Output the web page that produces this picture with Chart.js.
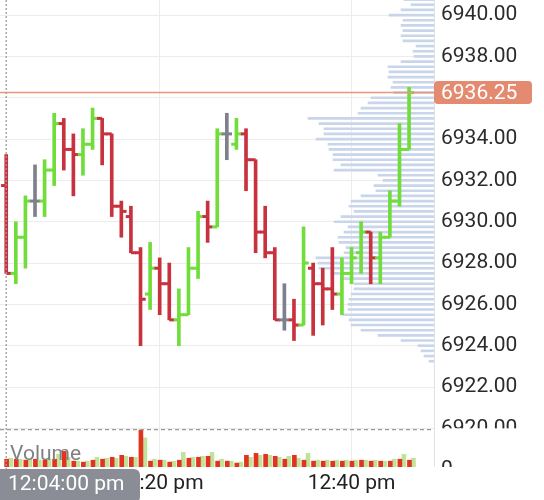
<!DOCTYPE html>
<html>
<head>
<meta charset="utf-8">
<script src="https://cdn.jsdelivr.net/npm/chart.js@4.4.1/dist/chart.umd.min.js"></script>
<style>
  html, body { margin: 0; padding: 0; background: #fff; }
</style>
</head>
<body>
<canvas id="chart" width="544" height="500"></canvas>
<script>
// minutes after 12:00
const times = [4,5,6,7,8,9,10,11,12,13,14,15,16,17,18,19,20,21,22,23,24,25,26,27,28,29,30,31,32,33,34,35,36,37,38,39,40,41,42,43,44,45,46];
const openP  = [6931.75,6927.5,6929.25,6931.0,6931.0,6932.5,6934.75,6933.5,6933.25,6933.75,6935.0,6934.25,6930.75,6930.25,6928.5,6926.5,6927.75,6927.0,6925.25,6925.5,6927.75,6930.25,6929.75,6934.25,6933.75,6934.25,6933.0,6929.5,6928.5,6925.25,6925.25,6925.0,6927.75,6927.0,6926.75,6926.5,6927.5,6928.5,6929.5,6928.25,6929.25,6931.0,6933.5];
const highP  = [6933.25,6930.0,6931.25,6932.75,6933.0,6935.25,6935.0,6934.25,6934.5,6935.5,6935.0,6934.25,6931.0,6930.75,6928.75,6929.0,6928.25,6928.0,6926.75,6928.75,6930.5,6931.0,6934.5,6935.25,6935.0,6934.5,6933.0,6930.75,6928.75,6927.0,6926.25,6929.75,6928.0,6927.75,6928.75,6928.25,6928.75,6930.0,6929.5,6929.5,6931.5,6934.75,6936.5];
const lowP   = [6927.5,6927.0,6927.75,6930.25,6930.25,6931.75,6932.5,6931.25,6932.25,6933.5,6932.75,6930.25,6929.25,6928.5,6924.0,6925.75,6925.5,6925.25,6924.0,6925.5,6927.25,6929.0,6929.75,6933.0,6933.5,6931.5,6928.5,6928.25,6925.25,6924.75,6924.25,6925.0,6924.5,6925.0,6925.75,6925.5,6927.0,6927.5,6927.0,6927.0,6929.25,6930.75,6933.5];
const closeP = [6927.5,6929.25,6931.0,6931.0,6932.5,6934.75,6933.5,6933.25,6933.75,6935.0,6934.25,6930.75,6930.5,6928.5,6926.25,6927.75,6927.0,6925.25,6925.5,6927.75,6930.25,6929.75,6934.25,6934.25,6934.25,6933.0,6929.5,6928.5,6925.25,6925.25,6925.0,6928.0,6927.0,6926.75,6926.5,6927.5,6928.25,6929.5,6928.25,6929.25,6931.0,6933.5,6936.25];

const sellVol = [8,8,7,8,7,8,16,6,5,7,8,10,12,10,38,6,7,5,7,9,10,11,6,6,4,12,14,13,11,8,12,7,6,6,6,6,6,7,6,6,6,8,7];
const buyVol  = [9,8,8,7,8,13,10,6,6,10,9,9,11,10,30,8,7,6,15,10,11,15,8,6,5,10,12,12,10,11,9,14,7,7,7,7,7,7,7,6,8,13,9];

const profilePrices = [6940.75,6940.5,6940.25,6940.0,6939.75,6939.5,6939.25,6939.0,6938.75,6938.5,6938.25,6938.0,6937.75,6937.5,6937.25,6937.0,6936.75,6936.5,6936.25,6936.0,6935.75,6935.5,6935.25,6935.0,6934.75,6934.5,6934.25,6934.0,6933.75,6933.5,6933.25,6933.0,6932.75,6932.5,6932.25,6932.0,6931.75,6931.5,6931.25,6931.0,6930.75,6930.5,6930.25,6930.0,6929.75,6929.5,6929.25,6929.0,6928.75,6928.5,6928.25,6928.0,6927.75,6927.5,6927.25,6927.0,6926.75,6926.5,6926.25,6926.0,6925.75,6925.5,6925.25,6925.0,6924.75,6924.5,6924.25,6924.0,6923.75,6923.5,6923.25];
const profileVol = [30,23,33,45,31,33,31,33,31,18,21,20,33,46,45,46,41,43,40,63,66,73,76,126,115,110,110,118,106,105,101,101,93,100,56,51,60,58,73,83,85,80,93,100,86,90,96,95,88,90,118,116,115,103,93,80,80,83,85,86,86,91,85,83,73,56,33,16,13,10,5];

const lastPrice = 6936.25;
const crossTime = 4;
const crossPrice = 6920;

const GREEN = '#70dd3a', RED = '#c8323f', GRAY = '#7e808d';
const barColor = times.map((t, i) => closeP[i] > openP[i] ? GREEN : closeP[i] < openP[i] ? RED : GRAY);

const fmtTime = (m) => {
  const h = 12 + Math.floor(m / 60);
  const mm = String(Math.round(m % 60)).padStart(2, '0');
  return h + ':' + mm + ' pm';
};

Chart.defaults.font.family = 'Roboto';

const noPad = (s) => { s.paddingTop = 0; s.paddingBottom = 0; s.paddingLeft = 0; s.paddingRight = 0; };

const overlay = {
  id: 'overlay',
  afterDatasetsDraw(chart) {
    const { ctx, chartArea: a, scales: { x, y } } = chart;
    ctx.save();
    const py = y.getPixelForValue(lastPrice);
    ctx.strokeStyle = '#e9977c';
    ctx.lineWidth = 1.5;
    ctx.beginPath(); ctx.moveTo(a.left, py); ctx.lineTo(a.right, py); ctx.stroke();

    const cx = x.getPixelForValue(crossTime), cy = y.getPixelForValue(crossPrice);
    ctx.strokeStyle = '#9b9b9b';
    ctx.lineWidth = 1.3;
    ctx.setLineDash([4, 3]);
    ctx.beginPath(); ctx.moveTo(a.left, cy + 1.2); ctx.lineTo(a.right, cy + 1.2); ctx.stroke();
    ctx.setLineDash([2, 2]);
    ctx.beginPath(); ctx.moveTo(cx, a.top); ctx.lineTo(cx, a.bottom + 4); ctx.stroke();
    ctx.restore();
  },
  afterDraw(chart) {
    const { ctx, chartArea: a, scales: { x, y } } = chart;
    const cy = y.getPixelForValue(crossPrice);
    ctx.save();
    // right pane border
    ctx.strokeStyle = '#e2e2e2';
    ctx.lineWidth = 1;
    ctx.beginPath(); ctx.moveTo(a.right + 0.5, a.top); ctx.lineTo(a.right + 0.5, a.bottom); ctx.stroke();

    // volume pane clips the price labels
    ctx.fillStyle = '#fff';
    ctx.fillRect(a.right + 1, cy, 544 - a.right, a.bottom - cy + 1);
    ctx.beginPath();
    ctx.rect(a.right + 1, cy, 544 - a.right, a.bottom - cy);
    ctx.clip();
    ctx.fillStyle = '#2b2b2b';
    ctx.font = '21px Roboto';
    ctx.textBaseline = 'middle';
    ctx.textAlign = 'left';
    ctx.fillText('0', a.right + 7, a.bottom + 3);
    ctx.restore();

    ctx.save();
    // last price tag
    const py = y.getPixelForValue(lastPrice);
    ctx.fillStyle = '#e38a70';
    ctx.beginPath();
    ctx.roundRect(a.right, py - 11.5, 98, 23, 4);
    ctx.fill();
    ctx.fillStyle = '#fff';
    ctx.font = '21px Roboto';
    ctx.textBaseline = 'middle';
    ctx.textAlign = 'left';
    ctx.fillText(lastPrice.toFixed(2), a.right + 7, py + 1);

    // crosshair time tag
    ctx.fillStyle = '#8a8d95';
    ctx.beginPath();
    ctx.roundRect(-12, a.bottom + 2, 152, 34, 6);
    ctx.fill();
    ctx.fillStyle = '#fff';
    ctx.fillText('12:04:00 pm', 8, a.bottom + 18);

    // volume pane title
    ctx.fillStyle = '#808080';
    ctx.textBaseline = 'alphabetic';
    ctx.fillText('Volume', 10, 460);
    ctx.restore();
  }
};

new Chart(document.getElementById('chart'), {
  data: {
    datasets: [
      {
        type: 'bar',
        label: 'profile',
        indexAxis: 'y',
        xAxisID: 'xp',
        yAxisID: 'y',
        data: profilePrices.map((p, i) => ({ x: profileVol[i], y: p })),
        backgroundColor: '#c9d5ea',
        barThickness: 2,
        grouped: false,
        order: 10
      },
      {
        type: 'bar',
        label: 'range',
        xAxisID: 'x',
        yAxisID: 'y',
        data: times.map((t, i) => ({ x: t, y: [lowP[i], highP[i]] })),
        backgroundColor: barColor,
        barThickness: 3,
        grouped: false,
        order: 2
      },
      {
        type: 'scatter',
        label: 'open',
        xAxisID: 'x',
        yAxisID: 'y',
        data: times.map((t, i) => ({ x: t - 0.27, y: openP[i] })),
        pointStyle: 'line',
        pointRadius: 2.6,
        pointBorderWidth: 3,
        pointBorderColor: barColor,
        pointBackgroundColor: barColor,
        order: 1
      },
      {
        type: 'scatter',
        label: 'close',
        xAxisID: 'x',
        yAxisID: 'y',
        data: times.map((t, i) => ({ x: t + 0.27, y: closeP[i] })),
        pointStyle: 'line',
        pointRadius: 2.6,
        pointBorderWidth: 3,
        pointBorderColor: barColor,
        pointBackgroundColor: barColor,
        order: 1
      },
      {
        type: 'bar',
        label: 'sell volume',
        xAxisID: 'x',
        yAxisID: 'yv',
        data: times.map((t, i) => ({ x: t + 0.25, y: sellVol[i] })),
        backgroundColor: '#e2331f',
        barThickness: 4,
        grouped: true,
        order: 5
      },
      {
        type: 'bar',
        label: 'buy volume',
        xAxisID: 'x',
        yAxisID: 'yv',
        data: times.map((t, i) => ({ x: t + 0.25, y: buyVol[i] })),
        backgroundColor: '#bfe39b',
        barThickness: 4,
        grouped: true,
        order: 5
      }
    ]
  },
  options: {
    responsive: false,
    animation: false,
    layout: { padding: 0, autoPadding: false },
    plugins: { legend: { display: false }, tooltip: { enabled: false } },
    scales: {
      x: {
        type: 'linear',
        position: 'bottom',
        offset: false,
        min: 3.35,
        max: 48.6,
        afterFit: (s) => { s.height = 33; noPad(s); },
        grid: { color: '#ececec', drawTicks: false, offset: false },
        border: { display: false },
        ticks: {
          stepSize: 20,
          includeBounds: false,
          padding: 4,
          color: '#222',
          font: { size: 21 },
          maxRotation: 0,
          callback: (v) => fmtTime(v)
        }
      },
      y: {
        type: 'linear',
        position: 'right',
        offset: false,
        min: 6918.13,
        max: 6940.73,
        afterFit: (s) => { s.width = 110; noPad(s); },
        grid: { color: '#ececec', drawTicks: false, offset: false },
        border: { display: false },
        ticks: {
          stepSize: 2,
          includeBounds: false,
          padding: 7,
          color: '#2b2b2b',
          font: { size: 21 },
          callback: (v) => v.toFixed(2)
        }
      },
      yv: {
        type: 'linear',
        display: false,
        offset: false,
        min: 0,
        max: 480
      },
      xp: {
        type: 'linear',
        display: false,
        offset: false,
        reverse: true,
        min: 0,
        max: 434
      }
    }
  },
  plugins: [overlay]
});
</script>
</body>
</html>
